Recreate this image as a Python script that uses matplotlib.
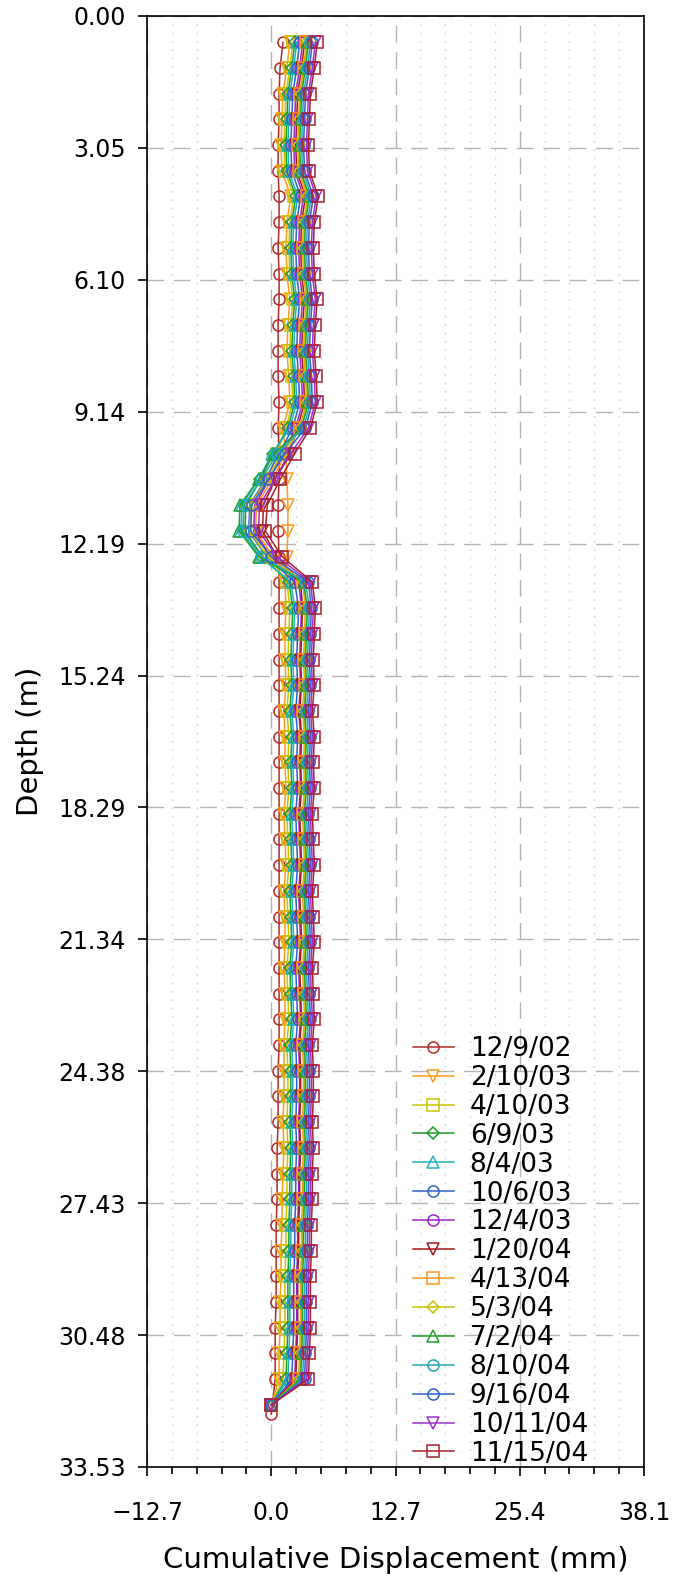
import matplotlib.pyplot as plt
from matplotlib.ticker import FixedLocator

plt.rcParams['font.family'] = ['DejaVu Sans']
plt.rcParams['lines.scale_dashes'] = False

# reading depths (m), last one is the fixed bottom point
depth = [0.61, 1.20, 1.80, 2.39, 2.99, 3.58, 4.17, 4.77, 5.36, 5.96,
         6.55, 7.14, 7.74, 8.33, 8.93, 9.52, 10.11, 10.71, 11.30, 11.90,
         12.49, 13.08, 13.68, 14.27, 14.87, 15.46, 16.05, 16.65, 17.24, 17.84,
         18.43, 19.02, 19.62, 20.21, 20.81, 21.40, 21.99, 22.59, 23.18, 23.78,
         24.37, 24.96, 25.56, 26.15, 26.75, 27.34, 27.93, 28.53, 29.12, 29.72,
         30.31, 30.90, 31.50, 32.09]
depth_first = depth[:-1] + [32.31]

dates = ['12/9/02', '2/10/03', '4/10/03', '6/9/03', '8/4/03', '10/6/03', '12/4/03',
         '1/20/04', '4/13/04', '5/3/04', '7/2/04', '8/10/04', '9/16/04', '10/11/04',
         '11/15/04']
colors = ['#b22a2a', '#ff9a1e', '#c9c400', '#1f9a2a', '#1fb2c2', '#2f62cc', '#9a24d0',
          '#a81818', '#ff9a1e', '#c9c400', '#22a02a', '#22aab0', '#2f62cc', '#9a30d0',
          '#a82030']
markers = ['o', 'v', 's', 'D', '^', 'o', 'o', 'v', 's', 'D', '^', 'o', 'o', 'v', 's']

# cumulative displacement (mm), top to bottom
d01 = [1.2, 0.9, 0.8, 0.8, 0.7, 0.7, 0.8, 0.8, 0.7, 0.8, 0.8, 0.7, 0.7, 0.7, 0.8, 0.7,
       0.8, 0.8, 0.7, 0.7, 0.8, 0.8,
       0.8, 0.8, 0.8, 0.8, 0.8, 0.8, 0.8, 0.8, 0.8, 0.8, 0.8, 0.8, 0.8, 0.8, 0.8, 0.8,
       0.8, 0.8, 0.7, 0.7, 0.7, 0.6, 0.6, 0.6, 0.5, 0.5, 0.5, 0.5, 0.4, 0.4, 0.4, 0.0]
d02 = [1.9, 1.6, 1.2, 1.1, 1.0, 1.1, 2.0, 1.6, 1.5, 1.6, 1.9, 1.7, 1.6, 1.8, 1.9, 1.2,
       1.5, 1.6, 1.7, 1.7, 1.6, 1.4,
       1.5, 1.4, 1.4, 1.5, 1.3, 1.4, 1.4, 1.5, 1.3, 1.4, 1.5, 1.3, 1.4, 1.4, 1.3, 1.4,
       1.4, 1.3, 1.3, 1.3, 1.2, 1.3, 1.2, 1.1, 1.1, 1.0, 1.0, 0.9, 0.9, 0.8, 0.8, 0.0]
d03 = [2.2, 1.9, 1.5, 1.4, 1.3, 1.4, 2.3, 1.9, 1.8, 1.9, 2.2, 2.0, 1.9, 2.1, 2.2, 1.5,
       0.6, -0.4, -1.6, -1.7, -0.2, 1.6,
       1.9, 1.8, 1.7, 1.8, 1.6, 1.8, 1.7, 1.8, 1.6, 1.7, 1.8, 1.6, 1.7, 1.8, 1.6, 1.7,
       1.8, 1.6, 1.7, 1.7, 1.6, 1.7, 1.6, 1.6, 1.5, 1.5, 1.4, 1.4, 1.4, 1.3, 1.2, 0.0]
d04 = [2.4, 2.1, 1.7, 1.6, 1.5, 1.6, 2.5, 2.1, 2.0, 2.1, 2.4, 2.2, 2.1, 2.3, 2.4, 1.7,
       0.2, -1.1, -2.6, -2.7, -0.9, 1.8,
       2.2, 2.1, 2.0, 2.1, 1.9, 2.1, 2.0, 2.1, 1.9, 2.0, 2.1, 1.9, 2.0, 2.1, 1.9, 2.0,
       2.1, 1.9, 2.0, 2.0, 1.9, 2.0, 1.9, 1.9, 1.8, 1.8, 1.7, 1.7, 1.7, 1.6, 1.5, 0.0]
d05 = [2.6, 2.3, 1.9, 1.8, 1.7, 1.8, 2.7, 2.3, 2.2, 2.3, 2.6, 2.4, 2.3, 2.5, 2.6, 1.9,
       0.1, -1.3, -3.0, -3.1, -1.2, 2.0,
       2.4, 2.3, 2.2, 2.3, 2.1, 2.3, 2.2, 2.3, 2.1, 2.2, 2.3, 2.1, 2.2, 2.3, 2.1, 2.2,
       2.3, 2.1, 2.2, 2.2, 2.1, 2.2, 2.1, 2.1, 2.0, 2.0, 1.9, 1.9, 1.9, 1.8, 1.7, 0.0]
d06 = [2.9, 2.6, 2.2, 2.1, 2.0, 2.1, 3.0, 2.6, 2.5, 2.6, 2.9, 2.7, 2.6, 2.8, 2.9, 2.2,
       0.8, -0.6, -2.2, -2.3, -0.5, 2.4,
       2.8, 2.7, 2.6, 2.7, 2.5, 2.7, 2.6, 2.7, 2.5, 2.6, 2.7, 2.5, 2.6, 2.7, 2.5, 2.6,
       2.7, 2.5, 2.6, 2.6, 2.5, 2.6, 2.5, 2.5, 2.4, 2.4, 2.3, 2.3, 2.3, 2.2, 2.1, 0.0]
d07 = [3.2, 2.9, 2.5, 2.4, 2.3, 2.4, 3.3, 2.9, 2.8, 2.9, 3.2, 3.0, 2.9, 3.1, 3.2, 2.5,
       1.2, -0.2, -1.7, -1.8, 0.0, 2.8,
       3.1, 3.0, 2.9, 3.0, 2.8, 3.0, 2.9, 3.0, 2.8, 2.9, 3.0, 2.8, 2.9, 3.0, 2.8, 2.9,
       3.0, 2.8, 2.9, 2.9, 2.8, 2.9, 2.8, 2.8, 2.7, 2.7, 2.6, 2.6, 2.6, 2.5, 2.4, 0.0]
d08 = [3.4, 3.1, 2.7, 2.6, 2.5, 2.6, 3.5, 3.1, 3.0, 3.1, 3.4, 3.2, 3.1, 3.3, 3.4, 2.7,
       1.8, 0.4, -0.8, -0.9, 0.6, 3.0,
       3.2, 3.1, 3.0, 3.1, 2.9, 3.1, 3.0, 3.1, 2.9, 3.0, 3.1, 2.9, 3.0, 3.1, 2.9, 3.0,
       3.1, 2.9, 3.0, 3.0, 2.9, 3.0, 2.9, 2.9, 2.8, 2.8, 2.7, 2.7, 2.7, 2.6, 2.5, 0.0]
d09 = [3.6, 3.3, 2.9, 2.8, 2.7, 2.8, 3.7, 3.3, 3.2, 3.3, 3.6, 3.4, 3.3, 3.5, 3.6, 2.9,
       1.5, 0.1, -1.5, -1.6, 0.2, 3.2,
       3.5, 3.4, 3.3, 3.4, 3.2, 3.4, 3.3, 3.4, 3.2, 3.3, 3.4, 3.2, 3.3, 3.4, 3.2, 3.3,
       3.4, 3.2, 3.3, 3.3, 3.2, 3.3, 3.2, 3.2, 3.1, 3.1, 3.0, 3.0, 3.0, 2.9, 2.8, 0.0]
d10 = [3.7, 3.4, 3.0, 2.9, 2.8, 2.9, 3.8, 3.4, 3.3, 3.4, 3.7, 3.5, 3.4, 3.6, 3.7, 3.0,
       1.1, -0.5, -2.1, -2.2, -0.4, 3.3,
       3.6, 3.5, 3.4, 3.5, 3.3, 3.5, 3.4, 3.5, 3.3, 3.4, 3.5, 3.3, 3.4, 3.5, 3.3, 3.4,
       3.5, 3.3, 3.4, 3.4, 3.3, 3.4, 3.3, 3.3, 3.2, 3.2, 3.1, 3.1, 3.1, 3.0, 2.9, 0.0]
d11 = [3.8, 3.5, 3.1, 3.0, 2.9, 3.0, 3.9, 3.5, 3.4, 3.5, 3.8, 3.6, 3.5, 3.7, 3.8, 3.1,
       0.3, -1.3, -3.2, -3.3, -1.3, 3.3,
       3.7, 3.6, 3.5, 3.6, 3.4, 3.6, 3.5, 3.6, 3.4, 3.5, 3.6, 3.4, 3.5, 3.6, 3.4, 3.5,
       3.6, 3.4, 3.5, 3.5, 3.4, 3.5, 3.4, 3.4, 3.3, 3.3, 3.2, 3.2, 3.2, 3.1, 3.0, 0.0]
d12 = [4.0, 3.7, 3.3, 3.2, 3.1, 3.2, 4.1, 3.7, 3.6, 3.7, 4.0, 3.8, 3.7, 3.9, 4.0, 3.3,
       0.6, -1.0, -2.8, -2.9, -1.0, 3.5,
       3.9, 3.8, 3.7, 3.8, 3.6, 3.8, 3.7, 3.8, 3.6, 3.7, 3.8, 3.6, 3.7, 3.8, 3.6, 3.7,
       3.8, 3.6, 3.7, 3.7, 3.6, 3.7, 3.6, 3.6, 3.5, 3.5, 3.4, 3.4, 3.4, 3.3, 3.2, 0.0]
d13 = [4.2, 3.9, 3.5, 3.4, 3.3, 3.4, 4.3, 3.9, 3.8, 3.9, 4.2, 4.0, 3.9, 4.1, 4.2, 3.5,
       1.4, -0.3, -2.0, -2.1, 0.0, 3.8,
       4.1, 4.0, 3.9, 4.0, 3.8, 4.0, 3.9, 4.0, 3.8, 3.9, 4.0, 3.8, 3.9, 4.0, 3.8, 3.9,
       4.0, 3.8, 3.9, 3.9, 3.8, 3.9, 3.8, 3.8, 3.7, 3.7, 3.6, 3.6, 3.6, 3.5, 3.4, 0.0]
d14 = [4.5, 4.2, 3.8, 3.7, 3.6, 3.7, 4.6, 4.2, 4.1, 4.2, 4.5, 4.3, 4.2, 4.4, 4.5, 3.8,
       2.0, 0.4, -1.2, -1.3, 0.6, 4.0,
       4.3, 4.2, 4.1, 4.2, 4.0, 4.2, 4.1, 4.2, 4.0, 4.1, 4.2, 4.0, 4.1, 4.2, 4.0, 4.1,
       4.2, 4.0, 4.1, 4.1, 4.0, 4.1, 4.0, 4.0, 3.9, 3.9, 3.8, 3.8, 3.8, 3.7, 3.6, 0.0]
d15 = [4.7, 4.4, 4.0, 3.9, 3.8, 3.9, 4.8, 4.4, 4.3, 4.4, 4.7, 4.5, 4.4, 4.6, 4.7, 4.0,
       2.4, 0.9, -0.4, -0.6, 1.1, 4.2,
       4.5, 4.4, 4.3, 4.4, 4.2, 4.4, 4.3, 4.4, 4.2, 4.3, 4.4, 4.2, 4.3, 4.4, 4.2, 4.3,
       4.4, 4.2, 4.3, 4.3, 4.2, 4.3, 4.2, 4.2, 4.1, 4.1, 4.0, 4.0, 4.0, 3.9, 3.8, 0.0]

series = [d01, d02, d03, d04, d05, d06, d07, d08, d09, d10, d11, d12, d13, d14, d15]

xticks = [-12.7, 0.0, 12.7, 25.4, 38.1]
xticklabels = ['\u221212.7', '0.0', '12.7', '25.4', '38.1']
xminor = [-10.16, -7.62, -5.08, -2.54, 2.54, 5.08, 7.62, 10.16, 15.24, 17.78,
          20.32, 22.86, 27.94, 30.48, 33.02, 35.56]
yticks = [0.0, 3.048, 6.096, 9.144, 12.192, 15.24, 18.288, 21.336, 24.384,
          27.432, 30.48, 33.528]
yticklabels = ['0.00', '3.05', '6.10', '9.14', '12.19', '15.24', '18.29', '21.34',
               '24.38', '27.43', '30.48', '33.53']

fig = plt.figure(figsize=(6.81, 15.79), dpi=100)
ax = fig.add_axes([147 / 681, 1 - 1467 / 1579, 497 / 681, 1451 / 1579])

for i, vals in enumerate(series):
    dep = depth_first if i == 0 else depth
    ax.plot(vals, dep, color=colors[i], marker=markers[i],
            markersize=8 if markers[i] != 'D' else 6.5,
            markerfacecolor='none', markeredgewidth=1.1, lw=1.1, label=dates[i])

ax.set_xlim(-12.7, 38.1)
ax.set_ylim(33.528, 0)
ax.xaxis.set_major_locator(FixedLocator(xticks))
ax.xaxis.set_minor_locator(FixedLocator(xminor))
ax.set_xticklabels(xticklabels)
ax.set_yticks(yticks)
ax.set_yticklabels(yticklabels)

ax.set_axisbelow(True)
ax.grid(True, which='major', color='#b4b4b4', lw=1.0, linestyle=(0, (12, 7)))
ax.grid(True, which='minor', axis='x', color='#c4c4c4', lw=0.9, linestyle=(0, (1, 5)))

ax.tick_params(axis='both', which='major', direction='out', length=6.5, width=1.2,
               labelsize=17, colors='black')
ax.tick_params(axis='y', which='major', pad=9)
ax.tick_params(axis='x', which='major', pad=18)
ax.tick_params(axis='x', which='minor', direction='out', length=5, width=1.2)
ax.tick_params(axis='y', which='minor', left=False)
for sp in ax.spines.values():
    sp.set_linewidth(1.2)

ax.set_xlabel('Cumulative Displacement (mm)', fontsize=21, labelpad=15)
ax.set_ylabel('Depth (m)', fontsize=21, labelpad=10)

leg = ax.legend(loc='upper left', bbox_to_anchor=(413 / 681, 1 - 1036 / 1579),
                bbox_transform=fig.transFigure, frameon=False, fontsize=19,
                handlelength=1.55, handletextpad=0.6, labelspacing=0.11,
                borderpad=0, borderaxespad=0, numpoints=1)

fig.savefig('out.png', dpi=100)
